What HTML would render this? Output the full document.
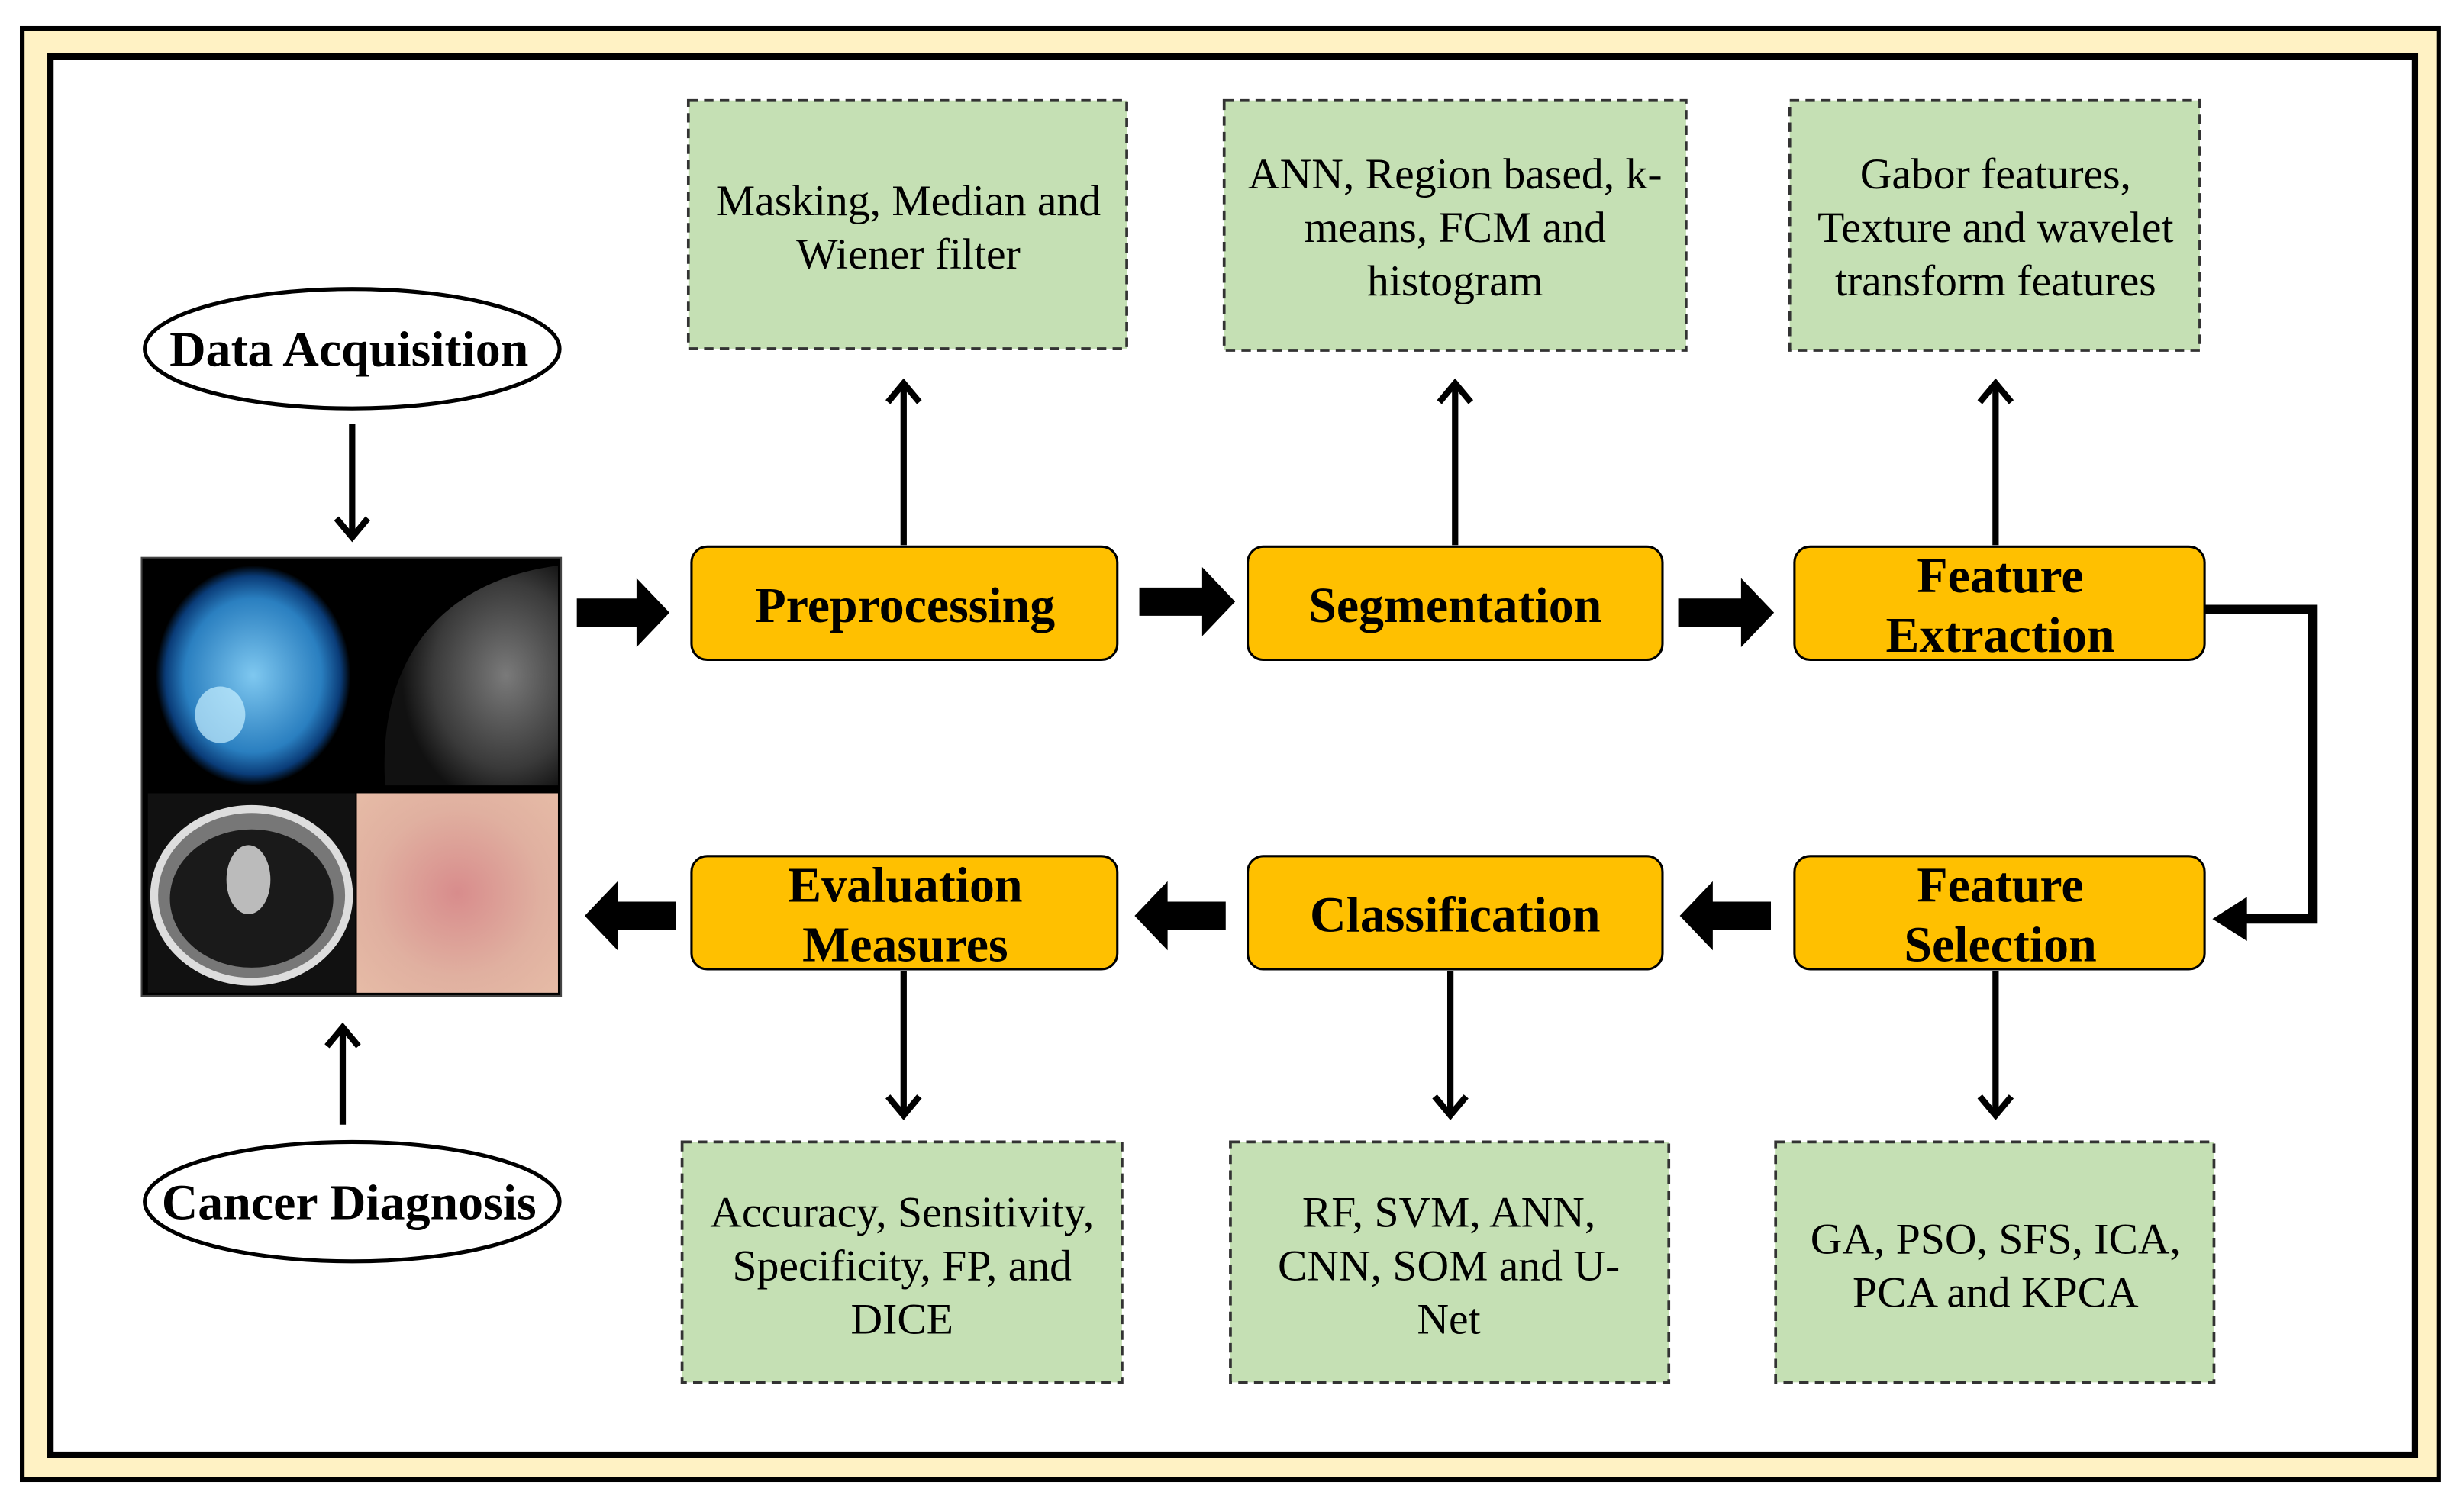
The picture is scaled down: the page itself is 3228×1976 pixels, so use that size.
<!DOCTYPE html>
<html><head><meta charset="utf-8"><style>
html,body{margin:0;padding:0;background:#fff;}
svg{display:block;}
text{font-family:"Liberation Serif",serif;}
.b{font-weight:bold;font-size:32px;text-anchor:middle;}
.g{font-size:28px;text-anchor:middle;}
</style></head><body>
<svg width="3228" height="1976" viewBox="0 0 1568 960" xmlns="http://www.w3.org/2000/svg">
<defs>
<marker id="ah" markerWidth="30" markerHeight="30" refX="14" refY="12" orient="auto" markerUnits="userSpaceOnUse">
<path d="M2,2 L14,12 L2,22" fill="none" stroke="#000" stroke-width="4"/>
</marker>
<radialGradient id="brain" cx="50%" cy="50%" r="50%">
<stop offset="0" stop-color="#7fc8f0"/><stop offset="0.7" stop-color="#2a7fc0"/><stop offset="0.9" stop-color="#0a3c78"/><stop offset="1" stop-color="#000"/></radialGradient>
<radialGradient id="mam" cx="70%" cy="50%" r="60%">
<stop offset="0" stop-color="#7a7a7a"/><stop offset="0.7" stop-color="#3a3a3a"/><stop offset="1" stop-color="#111"/></radialGradient>
<radialGradient id="skin" cx="50%" cy="50%" r="70%">
<stop offset="0" stop-color="#d88c8c"/><stop offset="0.6" stop-color="#e0b0a0"/><stop offset="1" stop-color="#e6bba6"/></radialGradient>
</defs>
<rect x="14" y="18" width="1538" height="924" fill="#fff2c4" stroke="#000" stroke-width="3"/>
<rect x="32" y="36" width="1505" height="890" fill="#fff" stroke="#000" stroke-width="4"/>

<ellipse cx="224" cy="222" rx="132" ry="38" fill="#fff" stroke="#000" stroke-width="2.5"/>
<text x="222" y="233" class="b">Data Acquisition</text>
<ellipse cx="224" cy="765" rx="132" ry="38" fill="#fff" stroke="#000" stroke-width="2.5"/>
<text x="222" y="776" class="b">Cancer Diagnosis</text>
<line x1="224" y1="270" x2="224" y2="342" stroke="#000" stroke-width="4" marker-end="url(#ah)"/>
<line x1="218" y1="716" x2="218" y2="654" stroke="#000" stroke-width="4" marker-end="url(#ah)"/>

<rect x="90" y="355" width="267" height="279" fill="#000" stroke="#444" stroke-width="1"/>
<rect x="94" y="358" width="137" height="144" fill="#000"/>
<ellipse cx="161" cy="430" rx="62" ry="70" fill="url(#brain)"/>
<ellipse cx="140" cy="455" rx="16" ry="18" fill="#c8f0ff" opacity="0.7"/>
<rect x="235" y="358" width="120" height="144" fill="#000"/>
<path d="M355,360 C280,370 240,420 245,500 L355,500 Z" fill="url(#mam)"/>
<rect x="94" y="505" width="132" height="127" fill="#111"/>
<ellipse cx="160" cy="570" rx="62" ry="55" fill="#777" stroke="#ddd" stroke-width="5"/>
<ellipse cx="160" cy="572" rx="52" ry="44" fill="#1a1a1a"/>
<ellipse cx="158" cy="560" rx="14" ry="22" fill="#bbb"/>
<rect x="227" y="505" width="128" height="127" fill="url(#skin)"/>

<g fill="#000">
<path d="M367,381 h38 v-13 l21,22 l-21,22 v-13 h-38 z"/>
<path d="M725,374 h40 v-13 l21,22 l-21,22 v-13 h-40 z"/>
<path d="M1068,381 h40 v-13 l21,22 l-21,22 v-13 h-40 z"/>
<path d="M430,574 h-37 v-13 l-21,22 l21,22 v-13 h37 z"/>
<path d="M780,574 h-37 v-13 l-21,22 l21,22 v-13 h37 z"/>
<path d="M1127,574 h-37 v-13 l-21,22 l21,22 v-13 h37 z"/>
</g>

<g fill="#ffc000" stroke="#000" stroke-width="1.5">
<rect x="440" y="348" width="271" height="72" rx="10"/>
<rect x="794" y="348" width="264" height="72" rx="10"/>
<rect x="1142" y="348" width="261" height="72" rx="10"/>
<rect x="440" y="545" width="271" height="72" rx="10"/>
<rect x="794" y="545" width="264" height="72" rx="10"/>
<rect x="1142" y="545" width="261" height="72" rx="10"/>
</g>
<text x="576" y="396" class="b">Preprocessing</text>
<text x="926" y="396" class="b">Segmentation</text>
<text x="1273" y="377" class="b">Feature</text>
<text x="1273" y="415" class="b">Extraction</text>
<text x="576" y="574" class="b">Evaluation</text>
<text x="576" y="612" class="b">Measures</text>
<text x="926" y="593" class="b">Classification</text>
<text x="1273" y="574" class="b">Feature</text>
<text x="1273" y="612" class="b">Selection</text>

<polyline points="1403,388 1472,388 1472,585 1416,585" fill="none" stroke="#000" stroke-width="6"/>
<path d="M1408,585 l22,-14 v28 z" fill="#000"/>

<g stroke="#000" stroke-width="4">
<line x1="575" y1="347" x2="575" y2="244" marker-end="url(#ah)"/>
<line x1="926" y1="347" x2="926" y2="244" marker-end="url(#ah)"/>
<line x1="1270" y1="347" x2="1270" y2="244" marker-end="url(#ah)"/>
<line x1="575" y1="618" x2="575" y2="710" marker-end="url(#ah)"/>
<line x1="923" y1="618" x2="923" y2="710" marker-end="url(#ah)"/>
<line x1="1270" y1="618" x2="1270" y2="710" marker-end="url(#ah)"/>
</g>

<g fill="#c5e0b4" stroke="#333" stroke-width="1.8" stroke-dasharray="6,4">
<rect x="438" y="64" width="279" height="158"/>
<rect x="779" y="64" width="294" height="159"/>
<rect x="1139" y="64" width="261" height="159"/>
<rect x="434" y="727" width="280" height="153"/>
<rect x="783" y="727" width="279" height="153"/>
<rect x="1130" y="727" width="279" height="153"/>
</g>
<text x="578" y="137" class="g">Masking, Median and</text>
<text x="578" y="171" class="g">Wiener filter</text>
<text x="926" y="120" class="g">ANN, Region based, k-</text>
<text x="926" y="154" class="g">means, FCM and</text>
<text x="926" y="188" class="g">histogram</text>
<text x="1270" y="120" class="g">Gabor features,</text>
<text x="1270" y="154" class="g">Texture and wavelet</text>
<text x="1270" y="188" class="g">transform features</text>
<text x="574" y="781" class="g">Accuracy, Sensitivity,</text>
<text x="574" y="815" class="g">Specificity, FP, and</text>
<text x="574" y="849" class="g">DICE</text>
<text x="922" y="781" class="g">RF, SVM, ANN,</text>
<text x="922" y="815" class="g">CNN, SOM and U-</text>
<text x="922" y="849" class="g">Net</text>
<text x="1270" y="798" class="g">GA, PSO, SFS, ICA,</text>
<text x="1270" y="832" class="g">PCA and KPCA</text>
</svg>
</body></html>
